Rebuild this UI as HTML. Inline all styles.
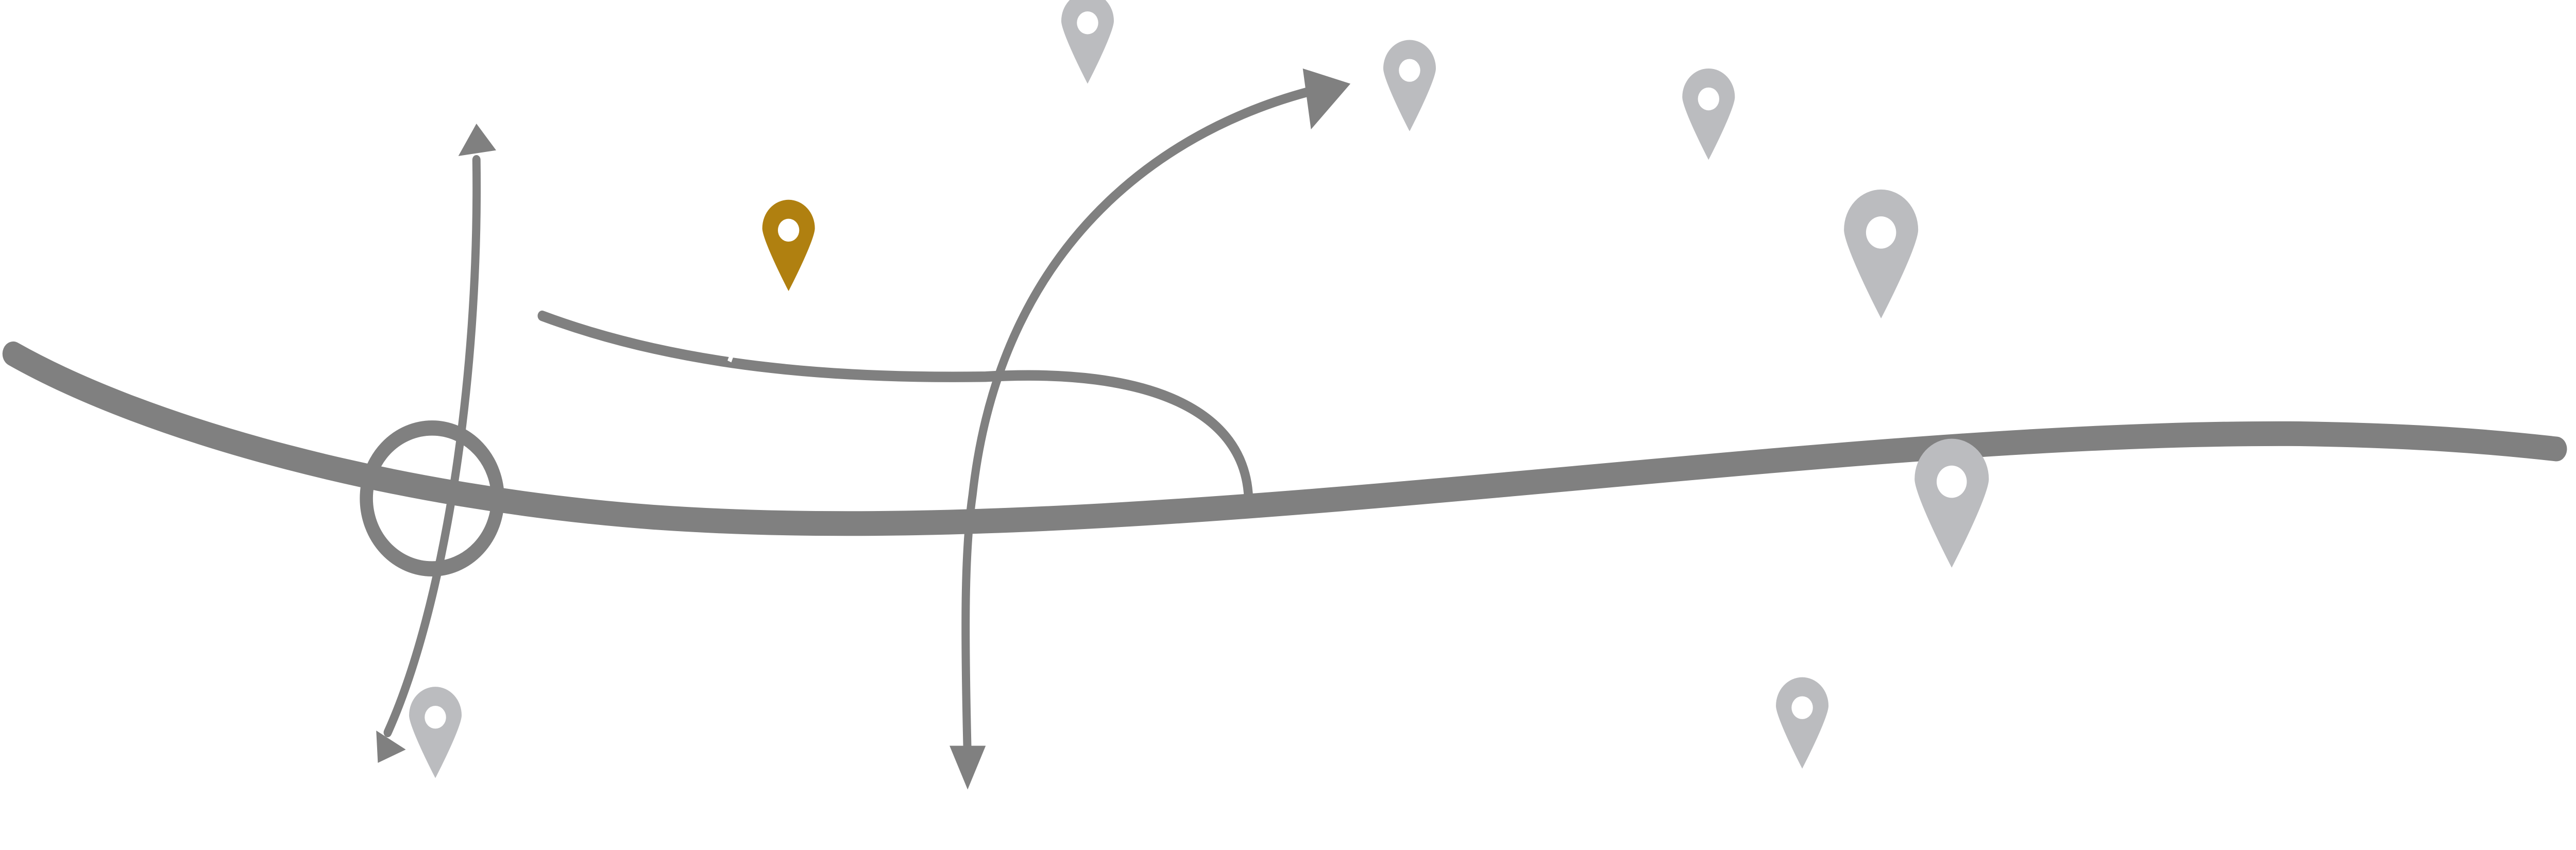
<!DOCTYPE html>
<html><head><style>html,body{margin:0;padding:0;background:#fff;width:100vw;height:100vh;overflow:hidden}svg{display:block;width:100vw;height:100vh}</style></head>
<body>
<svg viewBox="0 0 1568 446.8" preserveAspectRatio="none" xmlns="http://www.w3.org/2000/svg">
<defs>
<symbol id="pin" viewBox="-17 -19 34 50" overflow="visible">
<path d="M0,30 C-6,20 -16,2 -16,-3 A16,15 0 1 1 16,-3 C16,2 6,20 0,30 Z"/>
<ellipse cx="0" cy="-2" rx="6.5" ry="6" fill="#fff"/>
</symbol>
</defs>
<g fill="none" stroke="#808080" stroke-linecap="round">
<path d="M8,186 C90,226 240,262 400,272 C700,290 1100,226 1400,228 C1470,229 1515,232 1556,236" stroke-width="13"/>
<ellipse cx="263" cy="262" rx="40" ry="37" stroke-width="8"/>
<path d="M290,84 C292,200 270,320 236,385" stroke-width="5"/>
<path d="M330,166 C420,195 520,199 600,198 C700,193 758,216 760,262" stroke-width="5.5"/>
<path d="M589,400 C587,330 587,290 592,260 C610,120 720,62 812,45" stroke-width="5"/>
</g>
<g fill="#808080">
<polygon points="290,65 302,79 279,82"/>
<polygon points="230,401 229,384 247,394"/>
<polygon points="589,415 578,392 600,392"/>
<polygon points="822,44 793,36 798,68"/>
</g>
<ellipse cx="432" cy="180" rx="7" ry="2" transform="rotate(-25 432 180)" fill="none" stroke="#fff" stroke-width="1.3"/>
<line x1="449" y1="178" x2="444" y2="190" stroke="#fff" stroke-width="2.5"/>
<g fill="#bbbcbf">
<use href="#pin" x="645" y="-5" width="34" height="50"/>
<use href="#pin" x="841" y="20" width="34" height="50"/>
<use href="#pin" x="1023" y="35" width="34" height="50"/>
<use href="#pin" x="1121" y="98" width="48" height="71"/>
<use href="#pin" x="1164" y="229" width="48" height="71"/>
<use href="#pin" x="1080" y="355" width="34" height="50"/>
<use href="#pin" x="248" y="360" width="34" height="50"/>
</g>
<use href="#pin" x="463" y="104" width="34" height="50" fill="#b08010"/>
</svg>
</body></html>
